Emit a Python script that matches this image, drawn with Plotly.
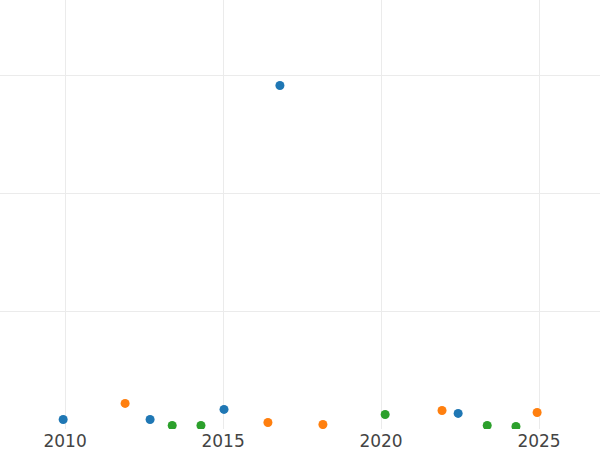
import plotly.graph_objects as go

blue_x = [2009.94, 2012.69, 2015.03, 2016.80, 2022.44]
blue_y = [0.081, 0.081, 0.166, 2.915, 0.132]
orange_x = [2011.90, 2016.42, 2018.16, 2021.93, 2024.94]
orange_y = [0.217, 0.055, 0.038, 0.157, 0.140]
green_x = [2013.39, 2014.30, 2020.13, 2023.36, 2024.27]
green_y = [0.030, 0.030, 0.123, 0.030, 0.021]

series = [
    ("A", blue_x, blue_y, "#1f77b4"),
    ("B", orange_x, orange_y, "#ff7f0e"),
    ("C", green_x, green_y, "#2ca02c"),
]

fig = go.Figure()
for name, xs, ys, c in series:
    fig.add_trace(go.Scatter(x=xs, y=ys, mode="markers", name=name,
                             marker=dict(color=c, size=9)))

fig.update_layout(
    width=600, height=450,
    margin=dict(l=0, r=0, t=0, b=21),
    paper_bgcolor="white", plot_bgcolor="white",
    showlegend=False,
    font=dict(family="DejaVu Sans", color="#444"),
)
fig.update_xaxes(range=[2007.94, 2026.93], tickvals=[2010, 2015, 2020, 2025],
                 showgrid=True, gridcolor="rgb(235,235,235)", zeroline=False,
                 showline=False, tickfont=dict(size=17))
fig.update_yaxes(range=[0, 3.64], dtick=1, showticklabels=False,
                 showgrid=True, gridcolor="rgb(235,235,235)", zeroline=False,
                 showline=False)
fig.write_html("out.html", config={"displayModeBar": False},
               post_script="document.body.style.margin='0px';")
